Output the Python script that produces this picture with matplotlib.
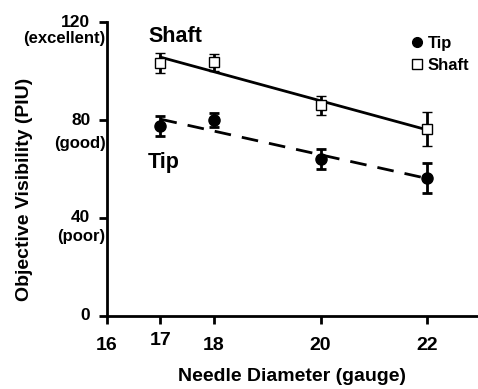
import numpy as np
from matplotlib import pyplot as plt
from matplotlib.lines import Line2D

plt.rcParams['font.family'] = ['Liberation Sans', 'DejaVu Sans']
plt.rcParams['font.weight'] = 'bold'

# needle gauge
gauge = [17, 18, 20, 22]
tip = [77.5, 80, 64, 56.3]
tip_err = [4, 3, 4, 6]
shaft = [103.3, 103.7, 86, 76.3]
shaft_err = [4, 3.5, 4, 7]

xticks = [16, 17, 18, 20, 22]
yticks = [0, 40, 80, 120]
ytick_notes = ['', '(poor)', '(good)', '(excellent)']
note_drop = [0, 19, 23, 16]  # px below the tick

fig = plt.figure(figsize=(4.78, 3.89), dpi=100)
ax = fig.add_axes([0.224, 0.188, 0.774, 0.755])

# regression lines
x_fit = np.array([17, 22])
p_tip = np.polyfit(gauge, tip, 1)
p_shaft = np.polyfit(gauge, shaft, 1)
ax.plot(x_fit, np.polyval(p_shaft, x_fit), 'k-', lw=2)
ax.plot(x_fit, np.polyval(p_tip, x_fit), 'k--', lw=2, dashes=(6, 4))

ax.errorbar(gauge, shaft, yerr=shaft_err, fmt='s', ms=7, mfc='white', mec='k',
            mew=1, ecolor='k', elinewidth=2, capsize=3.5, capthick=2, zorder=3)
ax.errorbar(gauge, tip, yerr=tip_err, fmt='o', ms=8, mfc='k', mec='k',
            ecolor='k', elinewidth=2, capsize=3.5, capthick=2, zorder=3)

ax.text(16.77, 114, 'Shaft', fontsize=15.5, fontweight='bold', ha='left', va='center')
ax.text(16.77, 62.5, 'Tip', fontsize=15.5, fontweight='bold', ha='left', va='center')

handles = [Line2D([], [], ls='none', marker='o', ms=7, mfc='k', mec='k'),
           Line2D([], [], ls='none', marker='s', ms=6.5, mfc='white', mec='k', mew=1)]
ax.legend(handles, ['Tip', 'Shaft'], loc='upper left', bbox_to_anchor=(0.82, 0.954),
          frameon=False, borderpad=0, borderaxespad=0, handletextpad=0.25,
          handlelength=0.8, labelspacing=0.45,
          prop={'weight': 'bold', 'size': 12})

ax.set_xlim(16, 22.93)
ax.set_ylim(0, 120)
ax.set_xticks(xticks)
ax.set_xticklabels([str(t) for t in xticks], fontsize=14, fontweight='bold')
ax.get_xticklabels()[1].set_y(0.02)
ax.set_yticks(yticks)
ax.set_yticklabels([])
for v, note, drop in zip(yticks, ytick_notes, note_drop):
    ax.annotate(str(v), xy=(0, v), xycoords=('axes fraction', 'data'),
                xytext=(-12, 0), textcoords='offset points',
                fontsize=12.5, fontweight='bold', ha='right', va='center')
    if note:
        ax.annotate(note, xy=(0, v), xycoords=('axes fraction', 'data'),
                    xytext=(-1, -drop * 0.72), textcoords='offset points',
                    fontsize=12, fontweight='bold', ha='right', va='center')

ax.tick_params(direction='out', length=5.5, width=2)
ax.tick_params(axis='x', pad=10)
for s in ['top', 'right']:
    ax.spines[s].set_visible(False)
for s in ['left', 'bottom']:
    ax.spines[s].set_linewidth(2)

ax.set_xlabel('Needle Diameter (gauge)', fontsize=14, fontweight='bold', labelpad=10)
ax.set_ylabel('Objective Visibility (PIU)', fontsize=14, fontweight='bold', va='center')
ax.yaxis.set_label_coords(-0.222, 0.432)

fig.savefig('out.png', dpi=100)
